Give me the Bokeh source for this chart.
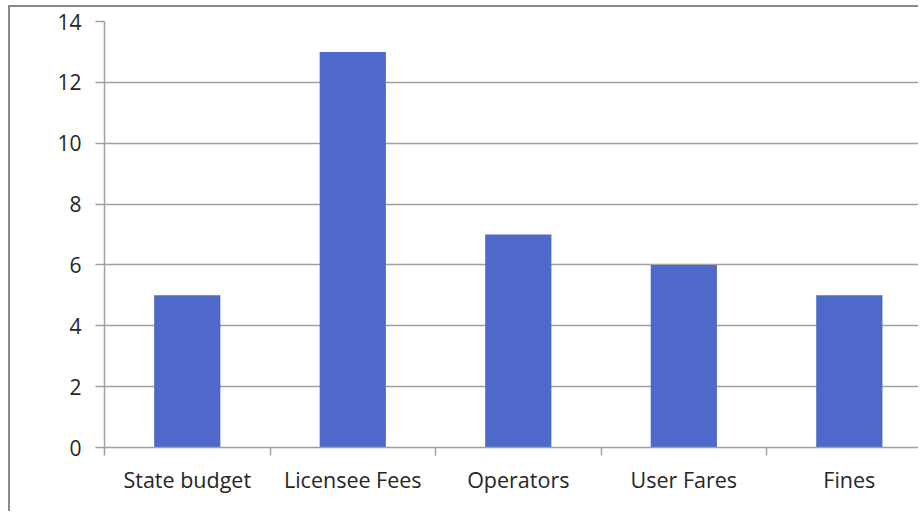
from bokeh.plotting import figure
from bokeh.models import FixedTicker, Range1d
from bokeh.embed import file_html
from bokeh.resources import INLINE

categories = ["State budget", "Licensee Fees", "Operators", "User Fares", "Fines"]
values = [5, 13, 7, 6, 5]
y_ticks = [0, 2, 4, 6, 8, 10, 12, 14]

xs = [i + 0.5 for i in range(len(categories))]

p = figure(width=910, height=506, output_backend="svg", toolbar_location=None,
           x_range=Range1d(0, 4.93), y_range=Range1d(0, 14))
p.styles = {"border-left": "2px solid #8a8a8a", "border-top": "2px solid #8a8a8a",
            "margin-left": "8px", "margin-top": "5px"}
p.min_border_left = 94
p.min_border_right = 0
p.min_border_top = 14
p.min_border_bottom = 66
p.outline_line_color = None
p.background_fill_color = "white"
p.border_fill_color = "white"

p.vbar(x=xs, top=values, width=0.4, bottom=0, color="#4e69c9", line_color=None)

line_col = "#a0a0a0"

# x axis
xa = p.xaxis[0]
xa.ticker = FixedTicker(ticks=xs, minor_ticks=list(range(len(categories) + 1)))
xa.major_label_overrides = {x: c for x, c in zip(xs, categories)}
xa.major_tick_line_color = None
xa.major_tick_out = 0
xa.major_tick_in = 0
xa.minor_tick_out = 8
xa.minor_tick_in = 0
xa.minor_tick_line_color = line_col
xa.minor_tick_line_width = 1.5
xa.axis_line_color = line_col
xa.axis_line_width = 1.5
xa.major_label_standoff = 9
xa.major_label_text_font = "Open Sans"
xa.major_label_text_font_size = "21.5px"
xa.major_label_text_color = "#262626"

# y axis
ya = p.yaxis[0]
ya.ticker = FixedTicker(ticks=y_ticks, minor_ticks=[])
ya.major_tick_out = 9
ya.major_tick_in = 0
ya.major_tick_line_color = line_col
ya.major_tick_line_width = 1.5
ya.axis_line_color = line_col
ya.axis_line_width = 1.5
ya.major_label_standoff = 14
ya.major_label_text_font = "Open Sans"
ya.major_label_text_font_size = "21px"
ya.major_label_text_color = "#262626"

p.xgrid.grid_line_color = None
p.ygrid.ticker = FixedTicker(ticks=y_ticks)
p.ygrid.grid_line_color = line_col
p.ygrid.grid_line_width = 1.5

open("out.html", "w").write(file_html(p, INLINE))
